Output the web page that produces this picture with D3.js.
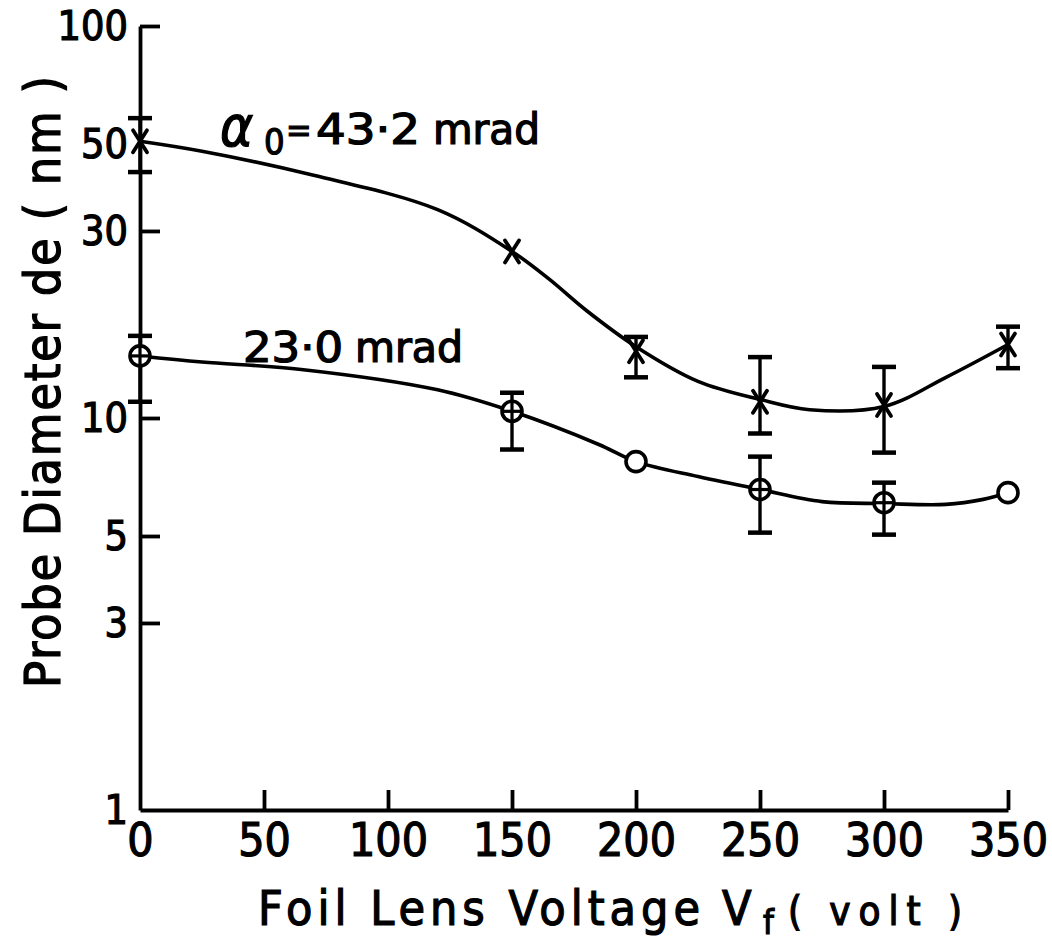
<!DOCTYPE html>
<html>
<head>
<meta charset="utf-8">
<script src="https://cdn.jsdelivr.net/npm/d3@7"></script>
<style>
  html, body { margin: 0; padding: 0; background: #fff; }
  svg { display: block; }
  .lettering { font-family: "DejaVu Sans Condensed", "DejaVu Sans", sans-serif; fill: #000; stroke: #000; stroke-width: 1.2px; }
</style>
</head>
<body>
<svg id="chart" width="1052" height="945"></svg>
<script>
// Foil lens voltage (volt)
const voltages = [0, 150, 200, 250, 300, 350];

// Probe diameter (nm) for alpha0 = 43.2 mrad (x markers)
const wideValues = [50.8, 26.6, 14.8, 11.0, 10.8, 15.4];
const wideErrLow  = [42.4, null, 12.7, 9.13, 8.16, 13.4];
const wideErrHigh = [58.2, null, 16.1, 14.3, 13.5, 17.1];

// Probe diameter (nm) for 23.0 mrad (circle markers)
const narrowValues = [14.4, 10.4, 7.74, 6.57, 6.08, 6.45];
const narrowErrLow  = [11.0, 8.31, null, 5.10, 5.04, null];
const narrowErrHigh = [16.2, 11.6, null, 7.97, 6.84, null];

// Hand-drawn trend curves
const wideFitX = [0, 25, 70, 120, 150, 165, 180, 200, 225, 250, 270, 300, 325, 350];
const wideFitY = [50.8, 47.9, 41.6, 34.0, 26.6, 22.6, 18.8, 15.2, 12.4, 11.15, 10.5, 10.7, 12.7, 15.4];
const narrowFitX = [0, 25, 65, 120, 150, 185, 200, 225, 250, 275, 300, 325, 340, 350];
const narrowFitY = [14.4, 13.9, 13.3, 11.8, 10.4, 8.56, 7.74, 7.09, 6.57, 6.12, 6.05, 6.02, 6.2, 6.45];

// Axis ticks
const xTicks = [0, 50, 100, 150, 200, 250, 300, 350];
const yTicks = [1, 3, 5, 10, 30, 50, 100];
const yTickMarks = [3, 5, 10, 30, 100];

const svg = d3.select("#chart");
const x = d3.scaleLinear().domain([0, 350]).range([140, 1008]);
const y = d3.scaleLog().domain([1, 100]).range([810, 26]);

const INK = "#000";

// Axes: ticks point into the plot
const yAxis = svg.append("g")
  .attr("transform", `translate(${x(0)},0)`)
  .call(d3.axisLeft(y).tickValues(yTicks).tickFormat(d3.format("d"))
    .tickSize(-20).tickSizeOuter(0).tickPadding(12));
yAxis.attr("font-size", null).attr("font-family", null);
yAxis.selectAll(".tick line")
  .attr("stroke-width", 3.8)
  .attr("display", d => yTickMarks.includes(d) ? null : "none");
yAxis.select(".domain").attr("stroke-width", 3.8);
yAxis.selectAll(".tick text").attr("class", "lettering").attr("font-size", 41);

const xAxis = svg.append("g")
  .attr("transform", `translate(0,${y(1)})`)
  .call(d3.axisBottom(x).tickValues(xTicks).tickFormat(d3.format("d"))
    .tickSize(-20).tickSizeOuter(0).tickPadding(13));
xAxis.attr("font-size", null).attr("font-family", null);
xAxis.selectAll(".tick line")
  .attr("stroke-width", 3.8)
  .attr("display", d => d === 0 ? "none" : null);
xAxis.select(".domain").attr("stroke-width", 3.8);
xAxis.selectAll(".tick text").attr("class", "lettering").attr("font-size", 46);

// Trend curves
const line = d3.line()
  .x(d => x(d[0]))
  .y(d => y(d[1]))
  .curve(d3.curveCatmullRom.alpha(0.5));

svg.append("path")
  .datum(d3.zip(wideFitX, wideFitY))
  .attr("d", line)
  .attr("fill", "none").attr("stroke", INK).attr("stroke-width", 3.6);

svg.append("path")
  .datum(d3.zip(narrowFitX, narrowFitY))
  .attr("d", line)
  .attr("fill", "none").attr("stroke", INK).attr("stroke-width", 3.6);

// Error bars
function errorBars(lo, hi) {
  const rows = voltages.map((v, i) => ({ v, lo: lo[i], hi: hi[i] })).filter(d => d.lo != null);
  const g = svg.append("g").attr("stroke", INK);
  g.selectAll("line.stem").data(rows).join("line")
    .attr("x1", d => x(d.v)).attr("x2", d => x(d.v))
    .attr("y1", d => y(d.lo)).attr("y2", d => y(d.hi))
    .attr("stroke-width", 3.4);
  g.selectAll("line.capLo").data(rows).join("line")
    .attr("x1", d => x(d.v) - 12).attr("x2", d => x(d.v) + 12)
    .attr("y1", d => y(d.lo)).attr("y2", d => y(d.lo))
    .attr("stroke-width", 4.5);
  g.selectAll("line.capHi").data(rows).join("line")
    .attr("x1", d => x(d.v) - 12).attr("x2", d => x(d.v) + 12)
    .attr("y1", d => y(d.hi)).attr("y2", d => y(d.hi))
    .attr("stroke-width", 4.5);
}
errorBars(wideErrLow, wideErrHigh);

// Circle markers
const circRows = voltages.map((v, i) => ({ v, val: narrowValues[i], err: narrowErrLow[i] != null }));
errorBars(narrowErrLow, narrowErrHigh);
svg.append("g").selectAll("circle").data(circRows).join("circle")
  .attr("cx", d => x(d.v)).attr("cy", d => y(d.val)).attr("r", 10)
  .attr("fill", "#fff").attr("stroke", INK).attr("stroke-width", 3.6);
// crosshair inside circles carrying an error bar
const cross0 = svg.append("g").attr("stroke", INK).attr("stroke-width", 3.2);
cross0.selectAll("line.h").data(circRows.filter(d => d.err)).join("line")
  .attr("x1", d => x(d.v) - 10).attr("x2", d => x(d.v) + 10)
  .attr("y1", d => y(d.val)).attr("y2", d => y(d.val));
cross0.selectAll("line.v").data(circRows.filter(d => d.err)).join("line")
  .attr("x1", d => x(d.v)).attr("x2", d => x(d.v))
  .attr("y1", d => y(d.val) - 10).attr("y2", d => y(d.val) + 10);

// Cross markers
const cross = svg.append("g").attr("stroke", INK).attr("stroke-width", 3.8).attr("stroke-linecap", "round");
const crossRows = voltages.map((v, i) => ({ v, val: wideValues[i] }));
cross.selectAll("line.a").data(crossRows).join("line")
  .attr("x1", d => x(d.v) - 7).attr("y1", d => y(d.val) - 11)
  .attr("x2", d => x(d.v) + 7).attr("y2", d => y(d.val) + 11);
cross.selectAll("line.b").data(crossRows).join("line")
  .attr("x1", d => x(d.v) + 7).attr("y1", d => y(d.val) - 11)
  .attr("x2", d => x(d.v) - 7).attr("y2", d => y(d.val) + 11);

// Series labels
const lab1 = svg.append("g").attr("class", "lettering");
lab1.append("text").attr("x", 220).attr("y", 146).attr("font-size", 56).attr("font-style", "italic").text("α");
lab1.append("text").attr("x", 264).attr("y", 154).attr("font-size", 36).text("0");
lab1.append("text").attr("x", 286).attr("y", 142).attr("font-size", 34).text("=");
lab1.append("text").attr("x", 316).attr("y", 144).attr("font-size", 42)
  .attr("textLength", 104).attr("lengthAdjust", "spacingAndGlyphs").text("43·2");
lab1.append("text").attr("x", 433).attr("y", 144).attr("font-size", 42)
  .attr("textLength", 107).attr("lengthAdjust", "spacingAndGlyphs").text("mrad");

const lab2 = svg.append("g").attr("class", "lettering");
lab2.append("text").attr("x", 243).attr("y", 362).attr("font-size", 42)
  .attr("textLength", 100).attr("lengthAdjust", "spacingAndGlyphs").text("23·0");
lab2.append("text").attr("x", 355).attr("y", 362).attr("font-size", 42)
  .attr("textLength", 108).attr("lengthAdjust", "spacingAndGlyphs").text("mrad");

// Axis titles
svg.append("text").attr("class", "lettering")
  .attr("transform", "translate(60,382) rotate(-90)")
  .attr("text-anchor", "middle").attr("font-size", 50)
  .attr("textLength", 612).attr("lengthAdjust", "spacing")
  .text("Probe  Diameter  de  ( nm )");

const xt = svg.append("g").attr("class", "lettering");
xt.append("text").attr("x", 258).attr("y", 925).attr("font-size", 48)
  .attr("textLength", 442).attr("lengthAdjust", "spacing").text("Foil  Lens  Voltage");
xt.append("text").attr("x", 722).attr("y", 925).attr("font-size", 48).text("V");
xt.append("text").attr("x", 763).attr("y", 934).attr("font-size", 34).text("f");
xt.append("text").attr("x", 788).attr("y", 925).attr("font-size", 40)
  .attr("textLength", 174).attr("lengthAdjust", "spacing").text("( volt )");
</script>
</body>
</html>
